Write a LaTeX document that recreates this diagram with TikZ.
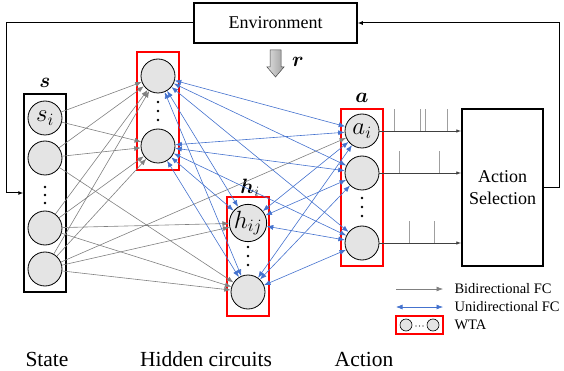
\documentclass[tikz,border=0pt]{standalone}
\usepackage{amsmath}
\usepackage{fontspec}
\setmainfont{Liberation Serif}
\newfontfamily\timesfam{Liberation Serif}
\usetikzlibrary{arrows.meta}

\definecolor{fcblue}{RGB}{68,114,206}
\definecolor{fcgray}{RGB}{128,128,128}
\definecolor{cellfill}{RGB}{228,228,228}

\newcommand{\boxfont}{\timesfam\fontsize{18}{22}\selectfont}
\newcommand{\legfont}{\timesfam\fontsize{14.5}{16}\selectfont}
\newcommand{\capfont}{\timesfam\fontsize{21.5}{24}\selectfont}
\newcommand{\cellfont}{\fontsize{23}{23}\selectfont}

\begin{document}
\begin{tikzpicture}[x=1pt,y=-1pt,
  cell/.style={circle,draw=black,line width=0.8pt,fill=cellfill,minimum size=34pt,inner sep=0pt,font=\cellfont},
  redbox/.style={draw=red,line width=1.6pt,minimum width=42pt,inner sep=0pt},
  blackbox/.style={draw=black,line width=1.5pt,inner sep=0pt},
  bifc/.style={draw=fcgray,line width=0.6pt,-{Latex[length=6.5pt,width=5pt]}},
  unifc/.style={draw=fcblue,line width=0.6pt,{Latex[length=6.5pt,width=5pt]}-{Latex[length=6.5pt,width=5pt]}},
  feedback/.style={draw=black,line width=1pt,-{Latex[length=5pt,width=4pt]}},
  outline/.style={draw=black!75,line width=0.8pt,-{Latex[length=5pt,width=3.5pt]}},
  spike/.style={draw=gray!75,line width=0.8pt},
  vdot/.style={fill=black},
  boldlbl/.style={font=\fontsize{22}{22}\selectfont}
]
\useasboundingbox (0,0) rectangle (564,371);

% group boxes
\node[blackbox,minimum width=42pt,minimum height=198pt] (State) at (45,193) {};
\node[redbox,minimum height=118pt] (HA) at (158,111) {};
\node[redbox,minimum height=119pt] (HB) at (248,256.5) {};
\node[redbox,minimum height=157pt] (Act) at (362,187.5) {};
\node[blackbox,minimum width=81pt,minimum height=157pt,align=center,font=\boxfont] (Sel) at (502.5,187.5) {Action\\Selection};
\node[blackbox,minimum width=163pt,minimum height=40pt,font=\boxfont] (Env) at (275.5,23) {Environment};

% group labels
\node[boldlbl] (ls) at (45,83) {$\boldsymbol{s}$};
\node[boldlbl] (la) at (362,98) {$\boldsymbol{a}$};
\node[boldlbl] (lh) at (250,188) {$\boldsymbol{h}_i$};
\node[boldlbl] (lr) at (298,62) {$\boldsymbol{r}$};

% reward arrow
\shade[left color=gray!25,right color=gray!75,draw=gray!55!black,line width=0.5pt]
  (270,50) -- (281,50) -- (281,67) -- (284,67) -- (275.5,77) -- (267,67) -- (270,67) -- cycle;

% neurons
\node[cell] (S1) at (45,118) {$s_i$};
\node[cell] (S2) at (45,158) {};
\node[cell] (S3) at (45,228) {};
\node[cell] (S4) at (45,269) {};
\node[cell] (H1) at (158,76) {};
\node[cell] (H2) at (158,146) {};
\node[cell] (H3) at (248,223) {$h_{ij}$};
\node[cell] (H4) at (248,292) {};
\node[cell] (A1) at (362,131) {$a_i$};
\node[cell] (A2) at (362,173) {};
\node[cell] (A3) at (362,243) {};

% vertical ellipses
\foreach \y in {187,195,203} \fill[vdot] (45,\y) circle (1.3pt);
\foreach \y in {102,111,120} \fill[vdot] (158,\y) circle (1.3pt);
\foreach \y in {247,256,265} \fill[vdot] (248,\y) circle (1.3pt);
\foreach \y in {198,207,216} \fill[vdot] (362,\y) circle (1.3pt);

% state -> hidden connections
\foreach \a/\b in {S1/H1,S1/H2,S2/H1,S2/H2,S2/H4,S3/H1,S3/H2,S3/H3,S3/H4,S4/H1,S4/H2,S4/H3,S4/H4,S4/A1}
  \draw[bifc] (\a) -- (\b);

% hidden <-> hidden / action connections
\foreach \a in {H1,H2} \foreach \b in {A1,A2,A3,H3,H4} \draw[unifc] (\a) -- (\b);
\foreach \a in {H3,H4} \foreach \b in {A1,A2,A3} \draw[unifc] (\a) -- (\b);

% spike trains to action selection
\foreach \x in {394,420,425,447} \draw[spike] (\x,131) -- (\x,109);
\foreach \x in {399,439} \draw[spike] (\x,173) -- (\x,151);
\foreach \x in {409,434} \draw[spike] (\x,243) -- (\x,221);
\foreach \n in {A1,A2,A3} \draw[outline] (\n) -- (\n -| Sel.west);

% environment loop
\draw[feedback] (Env.west) -- ++(-187,0) |- (State.west);
\draw[feedback] (Sel.east) -- ++(16,0) |- (Env.east);

% legend
\coordinate (g1) at (396,289); \coordinate (g2) at (443,289);
\draw[bifc] (g1) -- (g2);
\node[anchor=west,font=\legfont] (lg1) at (451,289) {Bidirectional FC};
\coordinate (b1) at (396,307); \coordinate (b2) at (443,307);
\draw[unifc] (b1) -- (b2);
\node[anchor=west,font=\legfont] (lg2) at (451,307) {Unidirectional FC};
\node[redbox,minimum width=47pt,minimum height=18pt,line width=1.4pt] (wta) at (419.5,325) {};
\node[cell,minimum size=12pt,line width=0.6pt] (w1) at (406,325) {};
\node[cell,minimum size=12pt,line width=0.6pt] (w2) at (433,325) {};
\foreach \x in {416,419.5,423} \fill (\x,326) circle (0.6pt);
\node[anchor=west,font=\legfont] (lg3) at (451,325) {WTA};

% captions
\node[font=\capfont,inner sep=0pt] (cs) at (47,359) {State};
\node[font=\capfont,inner sep=0pt] (ch) at (206,359) {Hidden circuits};
\node[font=\capfont,inner sep=0pt] (ca) at (364,359) {Action};
\end{tikzpicture}
\end{document}
